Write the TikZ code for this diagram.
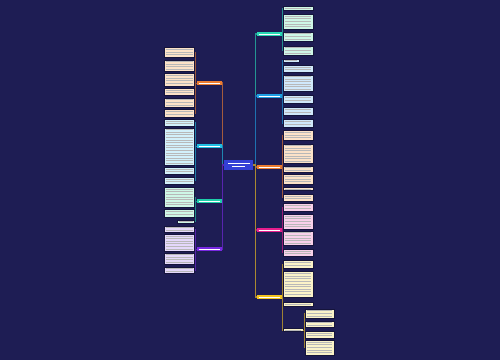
\documentclass[tikz,border=0pt]{standalone}
\usepackage{xcolor}
\definecolor{mmbg}{RGB}{30,29,84}
\definecolor{mmcenter}{RGB}{52,64,214}
\definecolor{mmorange}{RGB}{236,124,48}
\definecolor{mmcyan}{RGB}{32,190,226}
\definecolor{mmgreen}{RGB}{30,206,170}
\definecolor{mmpurple}{RGB}{120,40,226}
\definecolor{mmteal}{RGB}{40,216,180}
\definecolor{mmblue}{RGB}{30,160,226}
\definecolor{mmmagenta}{RGB}{232,30,140}
\definecolor{mmyellow}{RGB}{244,196,30}
\definecolor{fpeach}{RGB}{252,226,200}
\definecolor{fcyan}{RGB}{210,240,250}
\definecolor{fmint}{RGB}{206,246,230}
\definecolor{flav}{RGB}{228,216,250}
\definecolor{fpink}{RGB}{248,208,234}
\definecolor{fyellow}{RGB}{250,242,200}
\definecolor{fblue}{RGB}{208,232,250}
\usepackage{tikz}
\usetikzlibrary{arrows.meta, positioning, calc}

\tikzset{
  leaf/.style={draw=mmbg!70!black, line width=0.4pt, inner sep=0pt, outer sep=0pt},
  branch/.style={inner sep=0pt, outer sep=0pt, minimum width=0.5cm, minimum height=0.08cm},
  txt/.style={line width=0.55pt, black!28},
  wtxt/.style={line width=0.5pt, white!80},
  conn/.style={line width=0.6pt},
  conn2/.style={line width=0.35pt}
}

% leaf box: name, x1, y1, x2, y2, fill
\newcommand{\leaf}[6]{%
  \node[leaf, fill=#6, minimum width={(#4-#2)*0.02cm}, minimum height={(#5-#3)*0.02cm}]
    (#1) at ({(#2+#4)/2},{(#3+#5)/2}) {};
  \pgfmathtruncatemacro\nl{max(1,round((#5-#3-1.6)/2.6))}
  \foreach \k in {1,...,\nl}{
    \pgfmathsetmacro\ty{(#3+#5)/2+(\k-(\nl+1)/2)*2.6}
    \draw[txt] ({#2+1.8},\ty) -- ({#4-1.8},\ty);
  }
}

\begin{document}
\begin{tikzpicture}[x=0.02cm, y=-0.02cm]
  \fill[mmbg] (0,0) rectangle (500,360);

  % --- centre ---
  \node[fill=mmcenter, inner sep=0pt, outer sep=0pt, minimum width=0.58cm, minimum height=0.2cm] (ctr) at (238.5,165) {};
  \draw[wtxt] (228,163.5) -- (250,163.5);
  \draw[wtxt] (232,166.5) -- (245,166.5);

  % --- left branches ---
  \node[branch, fill=mmorange] (lo) at (209,83) {};
  \node[branch, fill=mmcyan]   (lc) at (209,146) {};
  \node[branch, fill=mmgreen]  (lg) at (209,201) {};
  \node[branch, fill=mmpurple] (lp) at (209,249) {};
  \foreach \b/\c in {lo/mmorange, lc/mmcyan, lg/mmgreen, lp/mmpurple}{
    \draw[conn, \c!65!mmbg] (ctr.west) -- ++(-1.5,0) |- (\b.east);
    \draw[wtxt] ($(\b.west)+(2,0)$) -- ($(\b.east)+(-2,0)$);
  }

  % --- right branches ---
  \node[branch, fill=mmteal]    (rt) at (269,34) {};
  \node[branch, fill=mmblue]    (rb) at (269,96) {};
  \node[branch, fill=mmorange]  (ro) at (269,167) {};
  \node[branch, fill=mmmagenta] (rm) at (269,230) {};
  \node[branch, fill=mmyellow]  (ry) at (269,297) {};
  \foreach \b/\c in {rt/mmteal, rb/mmblue, ro/mmorange, rm/mmmagenta, ry/mmyellow}{
    \draw[conn, \c!65!mmbg] (ctr.east) -- ++(2.5,0) |- (\b.west);
    \draw[wtxt] ($(\b.west)+(2,0)$) -- ($(\b.east)+(-2,0)$);
  }

  % --- left leaves ---
  \foreach \n/\xa/\ya/\xb/\yb in {L1/164/47/194.5/57, L2/164/60/194.5/71, L3/164/73/194.5/86,
      L4/164/88/194.5/95, L5/164/98/194.5/107, L6/164/109/194.5/117}{
    \draw[conn2, mmorange!60!mmbg] (lo.west) -- ++(-1,0) |- (\xb,{(\ya+\yb)/2});
    \leaf{\n}{\xa}{\ya}{\xb}{\yb}{fpeach}
  }
  \foreach \n/\xa/\ya/\xb/\yb in {L7/164/119/194.5/126, L8/164/128/194.5/165,
      L9/164/167/194.5/174, L10/164/177/194.5/184}{
    \draw[conn2, mmcyan!60!mmbg] (lc.west) -- ++(-1,0) |- (\xb,{(\ya+\yb)/2});
    \leaf{\n}{\xa}{\ya}{\xb}{\yb}{fcyan}
  }
  \foreach \n/\xa/\ya/\xb/\yb in {L11/164/187/194.5/207, L12/164/209/194.5/217, L13/177/220/194.5/223}{
    \draw[conn2, mmgreen!60!mmbg] (lg.west) -- ++(-1,0) |- (\xb,{(\ya+\yb)/2});
    \leaf{\n}{\xa}{\ya}{\xb}{\yb}{fmint}
  }
  \foreach \n/\xa/\ya/\xb/\yb in {L14/164/226/194.5/232, L15/164/234/194.5/251,
      L16/164/253/194.5/264, L17/164/267/194.5/273}{
    \draw[conn2, mmpurple!60!mmbg] (lp.west) -- ++(-1,0) |- (\xb,{(\ya+\yb)/2});
    \leaf{\n}{\xa}{\ya}{\xb}{\yb}{flav}
  }

  % --- right leaves ---
  \foreach \n/\xa/\ya/\xb/\yb in {R1/283/6/313/10, R2/283/14/313/29, R3/283/32/313/41, R4/283/46/313/55}{
    \draw[conn2, mmteal!60!mmbg] (rt.east) -- ++(1,0) |- (\xa,{(\ya+\yb)/2});
    \leaf{\n}{\xa}{\ya}{\xb}{\yb}{fmint}
  }
  \foreach \n/\xa/\ya/\xb/\yb in {R5/283/59/299/62, R6/283/65/313/72, R7/283/75/313/91,
      R8/283/95/313/103, R9/283/107/313/115, R10/283/119/313/127}{
    \draw[conn2, mmblue!60!mmbg] (rb.east) -- ++(1,0) |- (\xa,{(\ya+\yb)/2});
    \leaf{\n}{\xa}{\ya}{\xb}{\yb}{fblue}
  }
  \foreach \n/\xa/\ya/\xb/\yb in {R11/283/130/313/140, R12/283/144/313/163, R13/283/166/313/172,
      R14/283/174/313/184, R15/283/187.5/313/190.5, R16/283/194/313/201}{
    \draw[conn2, mmorange!60!mmbg] (ro.east) -- ++(1,0) |- (\xa,{(\ya+\yb)/2});
    \leaf{\n}{\xa}{\ya}{\xb}{\yb}{fpeach}
  }
  \foreach \n/\xa/\ya/\xb/\yb in {R17/283/203/313/211, R18/283/214/313/229,
      R19/283/231/313/245, R20/283/249/313/256}{
    \draw[conn2, mmmagenta!60!mmbg] (rm.east) -- ++(1,0) |- (\xa,{(\ya+\yb)/2});
    \leaf{\n}{\xa}{\ya}{\xb}{\yb}{fpink}
  }
  \foreach \n/\xa/\ya/\xb/\yb in {R21/283/260/313/268, R22/283/271/313/297,
      R23/283/302/313/306, sub/283/328.5/303/331.5}{
    \draw[conn2, mmyellow!60!mmbg] (ry.east) -- ++(1,0) |- (\xa,{(\ya+\yb)/2});
    \leaf{\n}{\xa}{\ya}{\xb}{\yb}{fyellow}
  }
  \foreach \n/\xa/\ya/\xb/\yb in {S1/305/309/334/318, S2/305/321/334/327,
      S3/305/331/334/338, S4/305/340/334/355}{
    \draw[conn2, mmyellow!60!mmbg] (sub.east) -- ++(1,0) |- (\xa,{(\ya+\yb)/2});
    \leaf{\n}{\xa}{\ya}{\xb}{\yb}{fyellow}
  }
\end{tikzpicture}
\end{document}
